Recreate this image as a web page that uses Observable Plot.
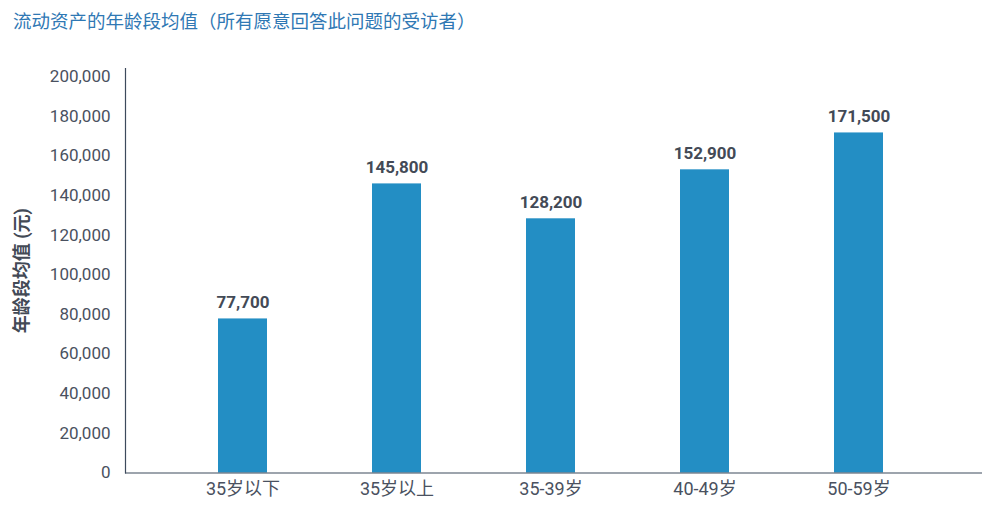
<!DOCTYPE html>
<html><head><meta charset="utf-8">
<script src="https://cdn.jsdelivr.net/npm/d3@7"></script>
<script src="https://cdn.jsdelivr.net/npm/@observablehq/plot@0.6"></script>
<style>
body{margin:0;background:#fff;font-family:Roboto,"Noto Sans CJK SC",sans-serif}
#title{height:40px;line-height:44px;padding-left:13px;font-size:18.5px;color:#2f78b4;white-space:nowrap;overflow:visible}
</style></head><body>
<div id="title">流动资产的年龄段均值（所有愿意回答此问题的受访者）</div>
<div id="chart"></div>
<script>
const categories = ["35岁以下", "35岁以上", "35-39岁", "40-49岁", "50-59岁"];
const values = [77700, 145800, 128200, 152900, 171500];
const yTicks = [0, 20000, 40000, 60000, 80000, 100000, 120000, 140000, 160000, 180000, 200000];
const yLabel = "年龄段均值 (元)";

const data = categories.map((c, i) => ({c, v: values[i]}));
const fmt = d3.format(",");
const axisColor = "#3d4a5c";
const textColor = "#4a5160";

const chart = Plot.plot({
  width: 989,
  height: 487,
  marginLeft: 125,
  marginRight: 7,
  marginTop: 28,
  marginBottom: 54.5,
  style: {fontFamily: 'Roboto, "Noto Sans CJK SC", sans-serif', background: "#fff", overflow: "visible"},
  x: {domain: categories, paddingInner: 0.684, paddingOuter: 0.607, align: 0.484, axis: null},
  y: {domain: [0, 204000], axis: null},
  marks: [
    Plot.barY(data, {x: "c", y: "v", fill: "#238ec4"}),
    Plot.ruleY([0], {stroke: axisColor, strokeWidth: 1.2}),
    Plot.frame({anchor: "left", stroke: axisColor, strokeWidth: 1.2}),
    Plot.axisY({ticks: yTicks, tickSize: 0, tickPadding: 15, tickFormat: fmt, fontSize: 17, fill: textColor, label: null}),
    Plot.axisX({tickSize: 0, tickPadding: 9, fontSize: 18, fill: textColor, label: null}),
    Plot.text(data, {x: "c", y: "v", text: d => fmt(d.v), dy: -16, fontSize: 17, fontWeight: "bold", fill: "#434a56"}),
    Plot.text([yLabel], {frameAnchor: "left", textAnchor: "middle", rotate: -90, dx: -103, fontSize: 18, fontWeight: "bold", fill: "#434a56"})
  ]
});
document.getElementById("chart").appendChild(chart);
</script>
</body></html>
